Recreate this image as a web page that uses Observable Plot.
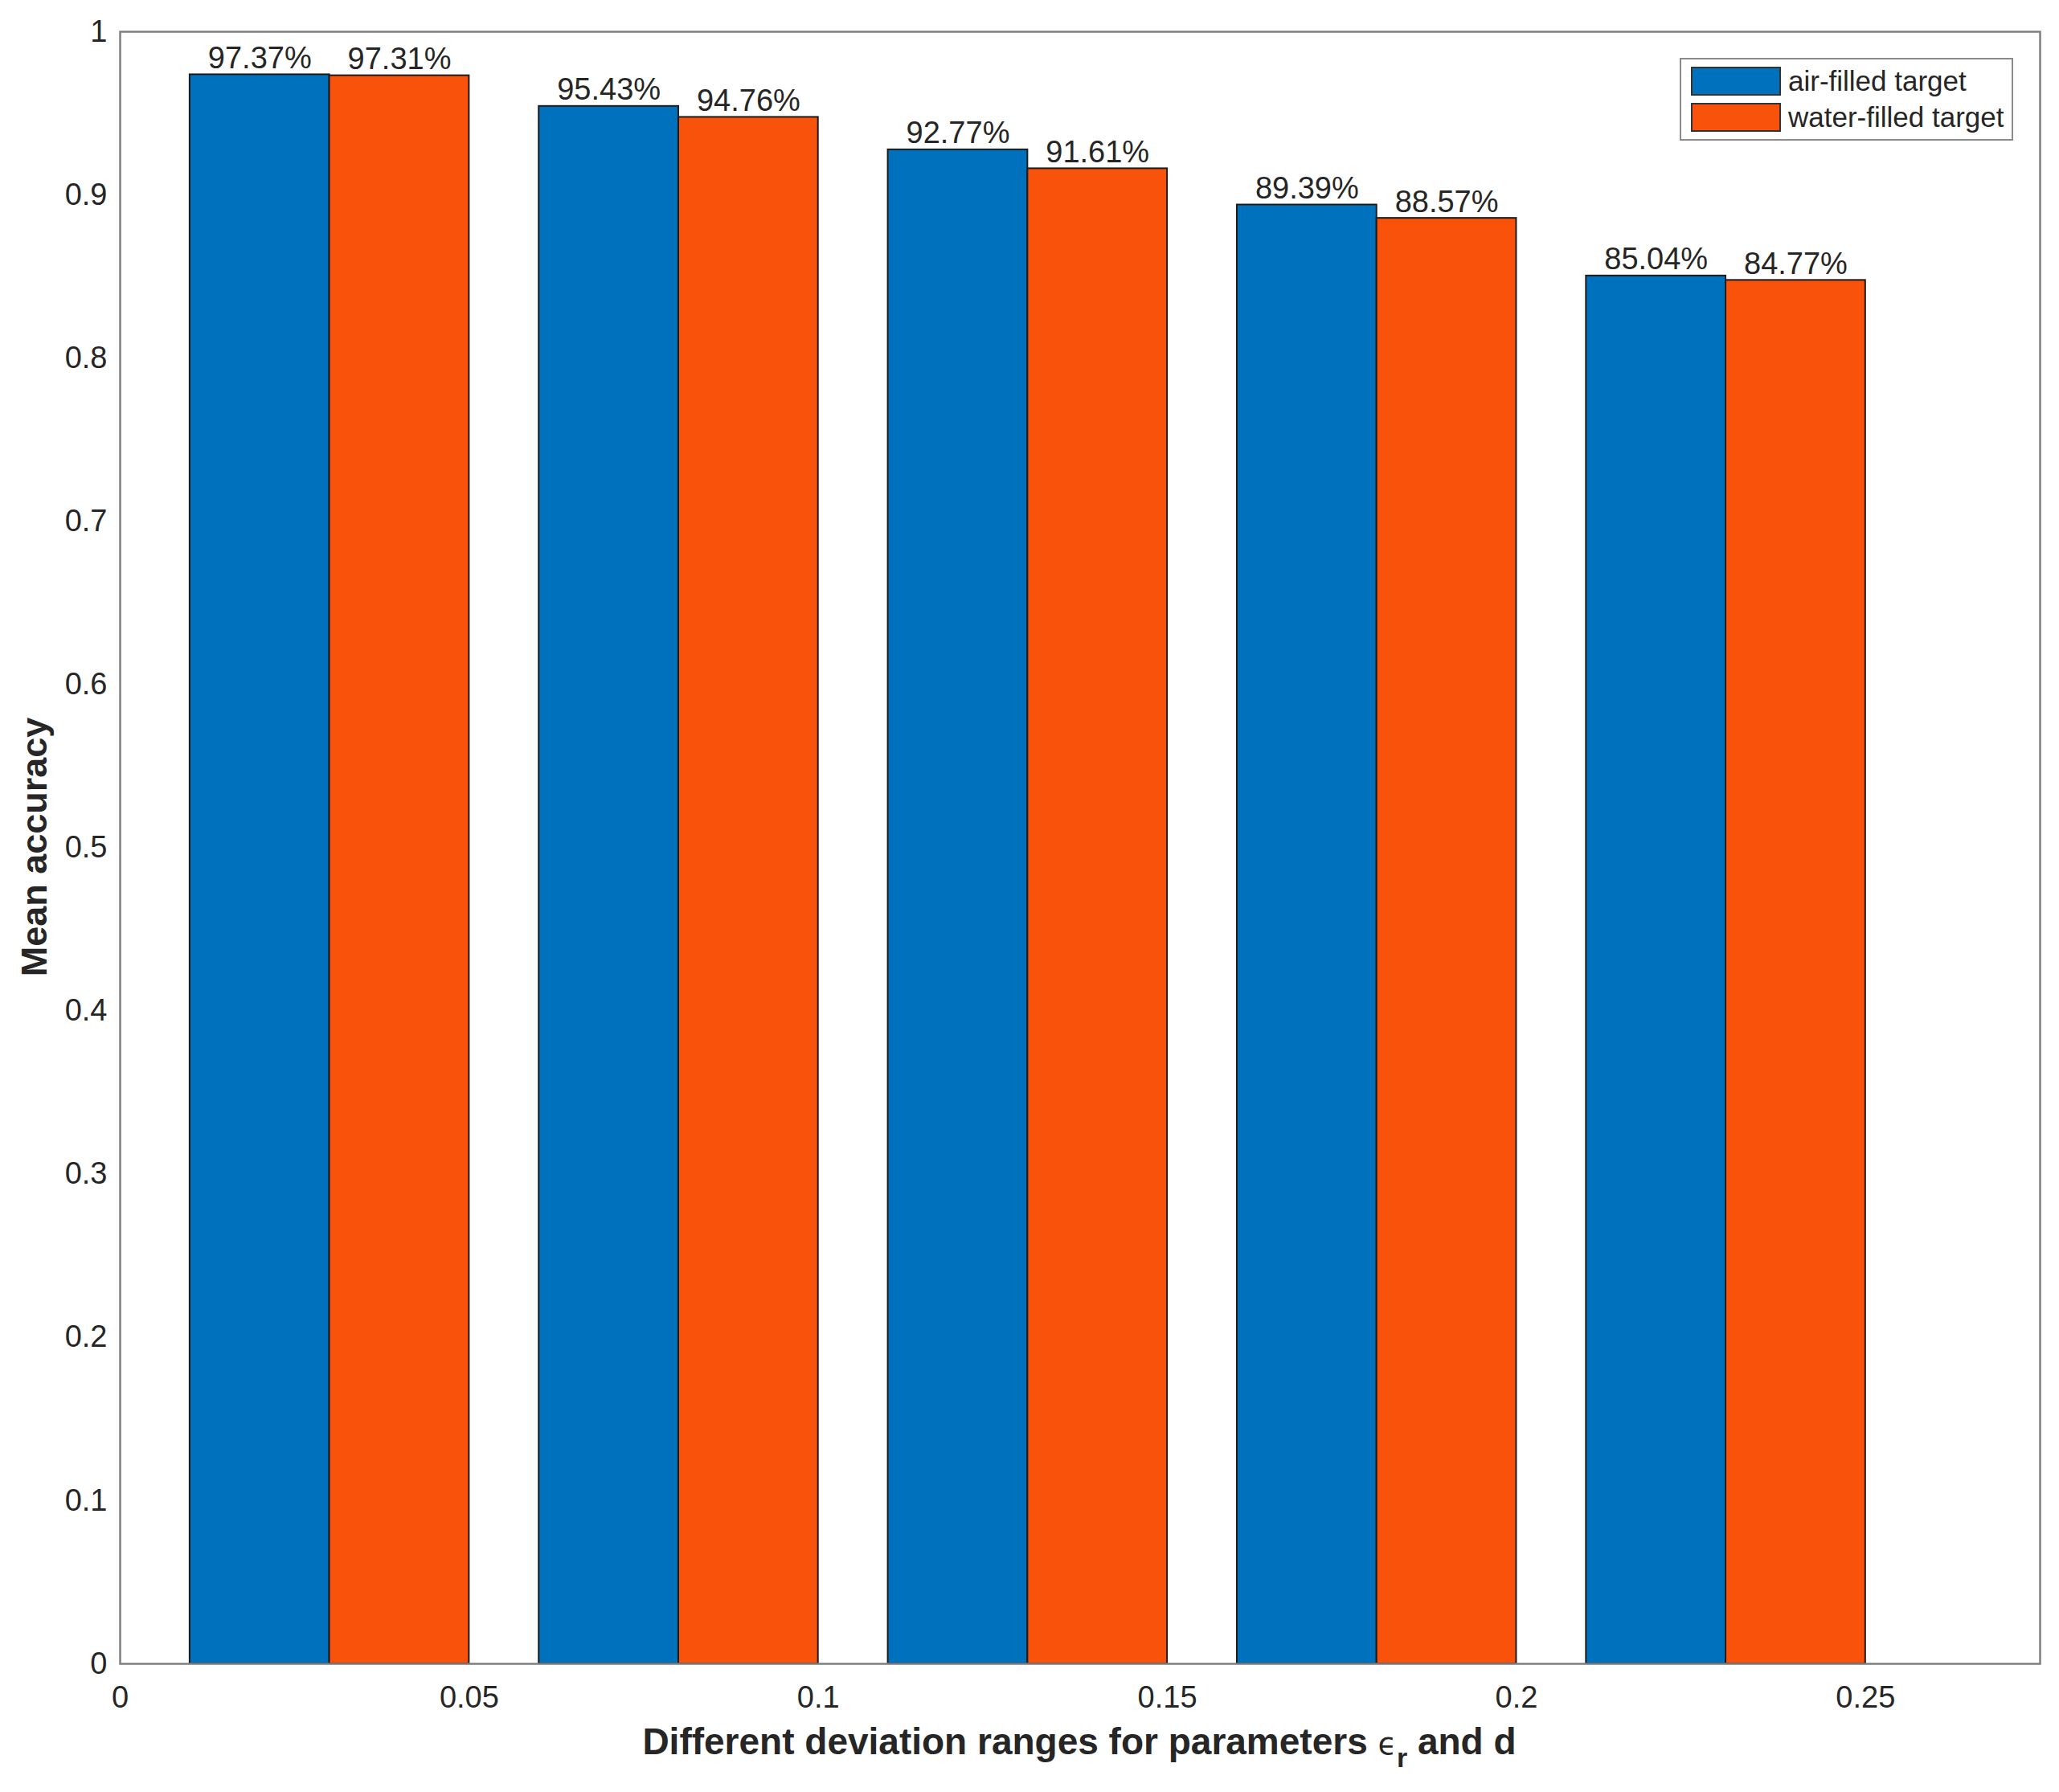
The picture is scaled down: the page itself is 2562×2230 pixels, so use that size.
<!DOCTYPE html>
<html>
<head>
<meta charset="utf-8">
<script src="https://cdn.jsdelivr.net/npm/d3@7"></script>
<script src="https://cdn.jsdelivr.net/npm/@observablehq/plot@0.6"></script>
<style>
  html, body { margin: 0; padding: 0; background: #fff; }
  #wrap { position: relative; width: 2562px; height: 2230px; font-family: "Liberation Sans", Arial, Helvetica, sans-serif; color: #262626; }
  #chart svg { display: block; }
  #legend { position: absolute; left: 2090px; top: 72px; width: 415px; height: 103px; box-sizing: border-box; border: 2px solid #8a8a8a; background: #fff; }
  .lrow { position: absolute; left: 12px; height: 38px; display: flex; align-items: center; }
  .sw { width: 112px; height: 36px; box-sizing: border-box; border: 2px solid #333; margin-right: 9px; }
  .lt { font-size: 35px; color: #262626; white-space: nowrap; }
  #xtitle { position: absolute; left: 0; width: 2562px; top: 2140px; text-align: center; padding-left: 124px; box-sizing: border-box; font-weight: bold; font-size: 46px; color: #262626; white-space: nowrap; }
  #xtitle .eps { font-weight: normal; font-family: "DejaVu Sans", sans-serif; font-size: 38px; }
  #xtitle sub { font-size: 34px; vertical-align: -16px; line-height: 0; }
  #ytitle { position: absolute; left: 43px; top: 1054px; transform: translate(-50%, -50%) rotate(-90deg); font-weight: bold; font-size: 45px; color: #262626; white-space: nowrap; }
</style>
</head>
<body>
<div id="wrap">
  <div id="chart"></div>
  <div id="legend"></div>
  <div id="xtitle"></div>
  <div id="ytitle"></div>
</div>
<script>
// ---- data ----
const groupCenters = [0.03, 0.08, 0.13, 0.18, 0.23];
const seriesNames = ["air-filled target", "water-filled target"];
const airValues = [0.9737, 0.9543, 0.9277, 0.8939, 0.8504];
const waterValues = [0.9731, 0.9476, 0.9161, 0.8857, 0.8477];
const seriesColors = ["#0072BD", "#F9520B"];
const xTicks = [0, 0.05, 0.1, 0.15, 0.2, 0.25];
const xTickLabels = ["0", "0.05", "0.1", "0.15", "0.2", "0.25"];
const yTicks = [0, 0.1, 0.2, 0.3, 0.4, 0.5, 0.6, 0.7, 0.8, 0.9, 1];
const yTickLabels = ["0", "0.1", "0.2", "0.3", "0.4", "0.5", "0.6", "0.7", "0.8", "0.9", "1"];
const xTitle = "Different deviation ranges for parameters";
const yTitle = "Mean accuracy";

// ---- table for the library ----
const barWidth = 0.02;
const rows = [];
groupCenters.forEach((g, i) => {
  rows.push({ series: seriesNames[0], x1: g - barWidth, x2: g, value: airValues[i] });
  rows.push({ series: seriesNames[1], x1: g, x2: g + barWidth, value: waterValues[i] });
});

const chart = Plot.plot({
  width: 2562,
  height: 2230,
  marginLeft: 149,
  marginRight: 24,
  marginTop: 39,
  marginBottom: 160,
  style: { fontFamily: '"Liberation Sans", Arial, Helvetica, sans-serif', color: "#262626", background: "#fff" },
  x: { domain: [0, 0.275] },
  y: { domain: [0, 1] },
  color: { domain: seriesNames, range: seriesColors },
  marks: [
    Plot.rect(rows, { x1: "x1", x2: "x2", y1: 0, y2: "value", fill: "series", stroke: "#1c1c1c", strokeWidth: 2 }),
    Plot.text(rows, {
      x: d => (d.x1 + d.x2) / 2, y: "value",
      text: d => (d.value * 100).toFixed(2) + "%",
      lineAnchor: "bottom", dy: -8, fontSize: 38, fill: "#262626"
    }),
    Plot.axisX({ ticks: xTicks, tickFormat: d => xTickLabels[xTicks.indexOf(d)], tickSize: 0, tickPadding: 28, fontSize: 38, label: null, fill: "#262626" }),
    Plot.axisY({ ticks: yTicks, tickFormat: d => yTickLabels[yTicks.indexOf(d)], tickSize: 0, tickPadding: 16, fontSize: 38, label: null, fill: "#262626" }),
    Plot.frame({ stroke: "#7f7f7f", strokeWidth: 2.5 })
  ]
});
document.getElementById("chart").appendChild(chart);

// legend
const legend = document.getElementById("legend");
seriesNames.forEach((name, i) => {
  const row = document.createElement("div");
  row.className = "lrow";
  row.style.top = (8 + i * 45) + "px";
  const sw = document.createElement("div");
  sw.className = "sw";
  sw.style.background = seriesColors[i];
  const t = document.createElement("span");
  t.className = "lt";
  t.textContent = name;
  row.appendChild(sw); row.appendChild(t);
  legend.appendChild(row);
});

// axis titles
const xt = document.getElementById("xtitle");
xt.appendChild(document.createTextNode(xTitle + " "));
const eps = document.createElement("span"); eps.className = "eps"; eps.textContent = "\u03F5";
xt.appendChild(eps);
const sub = document.createElement("sub"); sub.textContent = "r"; xt.appendChild(sub);
xt.appendChild(document.createTextNode(" and d"));
document.getElementById("ytitle").textContent = yTitle;
</script>
</body>
</html>
